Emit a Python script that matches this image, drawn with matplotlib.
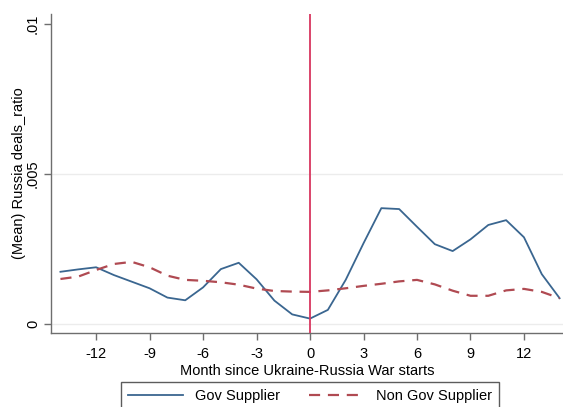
import matplotlib
matplotlib.use("Agg")
import matplotlib.pyplot as plt
import numpy as np

plt.rcParams['font.family'] = ['Liberation Sans', 'DejaVu Sans']

months = list(range(-14, 15))
gov_supplier = [1.74, 1.82, 1.89, 1.63, 1.41, 1.19, 0.88, 0.79, 1.22, 1.83, 2.04, 1.49, 0.78, 0.32, 0.18,
                0.47, 1.47, 2.69, 3.86, 3.83, 3.24, 2.66, 2.43, 2.82, 3.30, 3.46, 2.89, 1.66, 0.86]
non_gov_supplier = [1.50, 1.58, 1.80, 2.00, 2.07, 1.89, 1.61, 1.47, 1.44, 1.39, 1.31, 1.18, 1.10, 1.08, 1.07,
                    1.12, 1.19, 1.27, 1.34, 1.42, 1.47, 1.32, 1.11, 0.94, 0.94, 1.12, 1.17, 1.07, 0.86]
gov_supplier = [v / 1000 for v in gov_supplier]
non_gov_supplier = [v / 1000 for v in non_gov_supplier]

x_ticks = [-12, -9, -6, -3, 0, 3, 6, 9, 12]
y_ticks = [0, 0.005, 0.01]
y_tick_labels = ['0', '.005', '.01']

fs = 10.5

fig = plt.figure(figsize=(5.63, 4.07), dpi=100)
ax = fig.add_axes([51/563, 74/407, 1 - 51/563, (333-14)/407])

spine_c = '#6e6e6e'
for g in [0, 0.005]:
    ax.axhline(g, color='#ececec', lw=1.0, zorder=0)

ax.plot(months, gov_supplier, color='#3a6690', lw=1.3, label='Gov Supplier', zorder=3)
ax.plot(months, non_gov_supplier, color='#b04a52', lw=1.6, ls=(0, (5, 3.5)), label='Non Gov Supplier', zorder=3)
ax.axvline(0, color='#d8365f', lw=1.3, zorder=4)

ax.set_xlim(-14.53, 14.19)
ax.set_ylim(-0.0003, 0.01033)
ax.set_xticks(x_ticks)
ax.set_xticklabels([str(t) for t in x_ticks])
ax.set_yticks(y_ticks)
ax.set_yticklabels(y_tick_labels, rotation=90, va='center')

for s in ['top', 'right']:
    ax.spines[s].set_visible(False)
for s in ['left', 'bottom']:
    ax.spines[s].set_color(spine_c)
    ax.spines[s].set_linewidth(1.0)
ax.tick_params(axis='both', colors=spine_c, labelcolor='black', length=5, width=1.0, labelsize=fs)
ax.tick_params(axis='x', pad=5)
ax.tick_params(axis='y', pad=3)

ax.set_xlabel('Month since Ukraine-Russia War starts', fontsize=fs, labelpad=2)
ax.set_ylabel('(Mean) Russia deals_ratio', fontsize=fs, labelpad=0)

leg = fig.legend(loc='upper center', bbox_to_anchor=(310/563, 1 - 382/407), ncol=2, frameon=True,
                 fancybox=False, edgecolor='#333333', fontsize=fs, handlelength=3.8, columnspacing=2.0,
                 borderpad=0.5, borderaxespad=0)
leg.get_frame().set_linewidth(1.0)

fig.savefig('out.png', dpi=100)
